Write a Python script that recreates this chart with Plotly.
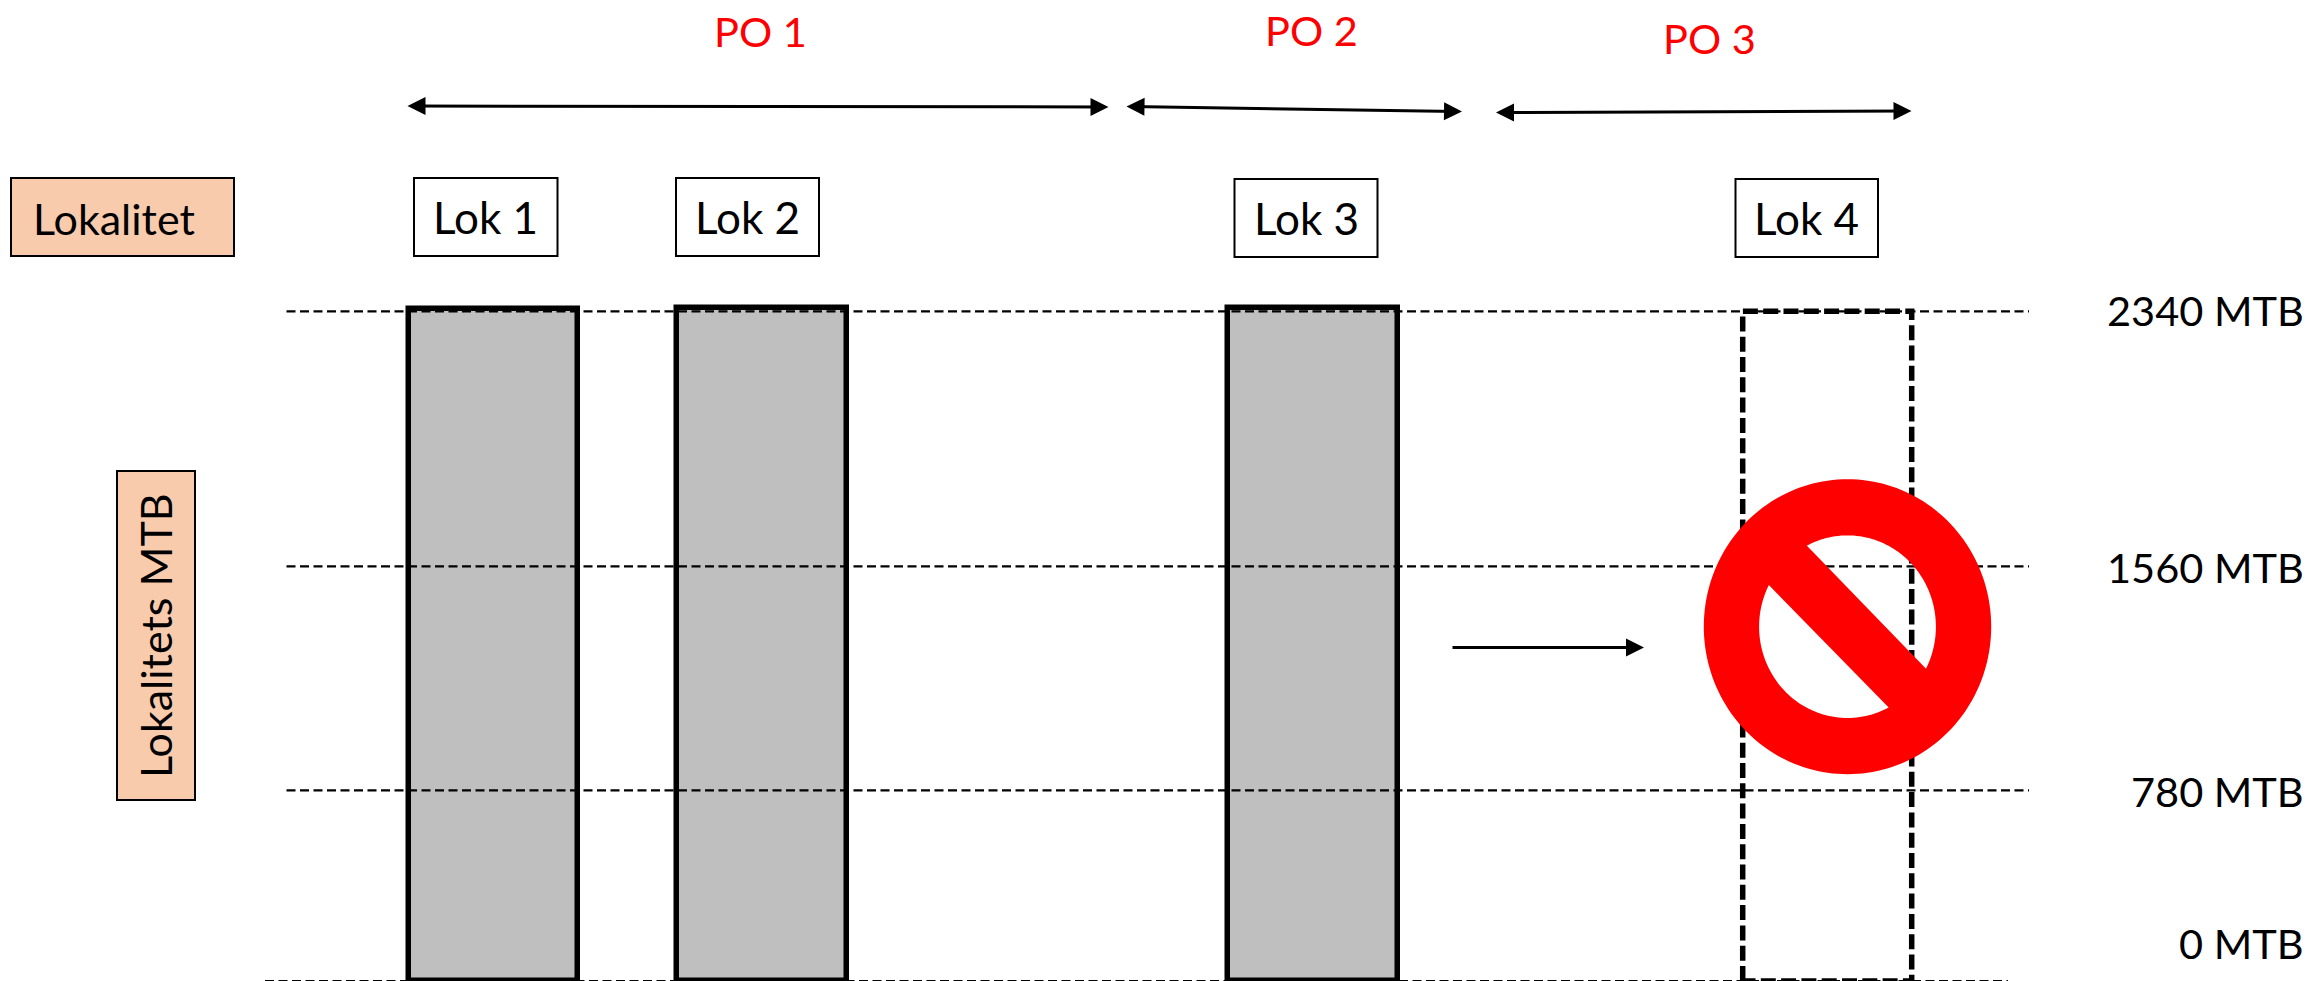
import numpy as np
import plotly.graph_objects as go

# ---- data ----
locations = ["Lok 1", "Lok 2", "Lok 3", "Lok 4"]
location_x = [493.3, 761.8, 1312.8, 1827.2]
location_width = [169.6, 169.6, 169.4, 169.0]
location_height = [672.5, 673.5, 673.5, 669.7]
location_active = [True, True, True, False]

level_labels = ["2340 MTB", "1560 MTB", "780 MTB", "0 MTB"]
level_height = [669.7, 414.7, 190.7, 0.0]

phase_labels = ["PO 1", "PO 2", "PO 3"]

# ---- layout helpers (page-pixel placement of the diagram furniture) ----
W, H, BASE = 2310, 981, 980
SHIFT = 1.0
FONT = "Lato"
BLACK, RED, GREY, PEACH = "#000000", "#FF0000", "#BFBFBF", "#F8CBAD"


def Y(px):
    return BASE + SHIFT - px


fig = go.Figure()

fig.add_trace(go.Bar(
    x=location_x, y=location_height, width=location_width, base=0,
    marker=dict(
        color=[GREY if a else "rgba(0,0,0,0)" for a in location_active],
        line=dict(color=BLACK, width=[5.5 if a else 0 for a in location_active]),
    ),
    hoverinfo="skip", showlegend=False,
))

# dashed outline of the cancelled location
for cx, w, h, a in zip(location_x, location_width, location_height, location_active):
    if not a:
        fig.add_trace(go.Scatter(
            x=[cx - w / 2, cx - w / 2, cx + w / 2, cx + w / 2, cx - w / 2],
            y=[0, h, h, 0, 0], mode="lines",
            line=dict(color=BLACK, width=5.5, dash="15px,5.3px"),
            hoverinfo="skip", showlegend=False,
        ))

# dashed reference levels
grid_span = [(286.5, 2029), (286.5, 2029), (286.5, 2029), (265, 2008)]
for h, (x0, x1) in zip(level_height, grid_span):
    fig.add_trace(go.Scatter(
        x=[x0, x1], y=[h, h], mode="lines",
        line=dict(color=BLACK, width=2.2, dash="9px,4.5px"),
        hoverinfo="skip", showlegend=False,
    ))

shapes = []
annotations = []


def boxed(text, x0, x1, y0, y1, fill, tx=None, ty=None, angle=0, size=44):
    shapes.append(dict(type="rect", xref="x", yref="y", x0=x0, x1=x1,
                       y0=Y(y0), y1=Y(y1),
                       fillcolor=fill, line=dict(color=BLACK, width=2), layer="above"))
    annotations.append(dict(
        text=text, xref="x", yref="y", showarrow=False, textangle=angle,
        x=(x0 + x1) / 2 if tx is None else tx,
        y=Y((y0 + y1) / 2 if ty is None else ty),
        xanchor="center", yanchor="middle",
        font=dict(family=FONT, size=size, color=BLACK),
    ))


boxed("Lokalitet", 11, 234, 178, 256, PEACH, tx=114, ty=218, size=43)
boxed("Lokalitets MTB", 117, 195, 471, 800, PEACH, tx=155, ty=636, angle=-90, size=43)

label_boxes = [(414, 557.5, 178, 256), (676, 819, 178, 256),
               (1234.5, 1377.5, 179, 257), (1735.5, 1878, 179, 257)]
for name, (x0, x1, y0, y1) in zip(locations, label_boxes):
    boxed(name, x0, x1, y0, y1, "#FFFFFF", ty=(y0 + y1) / 2)

# level labels
level_label_y = [310, 566.5, 791, 943]
for t, py in zip(level_labels, level_label_y):
    annotations.append(dict(
        text=t, xref="x", yref="y", x=2306, y=Y(py), showarrow=False,
        xanchor="right", yanchor="middle",
        font=dict(family=FONT, size=41.5, color=BLACK),
    ))

# phase labels
phase_pos = [(760, 31), (1311, 30), (1709, 38)]
for t, (px, py) in zip(phase_labels, phase_pos):
    annotations.append(dict(
        text=t, xref="x", yref="y", x=px, y=Y(py), showarrow=False,
        xanchor="center", yanchor="middle",
        font=dict(family=FONT, size=41.5, color=RED),
    ))


def arrow(x0, y0, x1, y1, both=True):
    annotations.append(dict(
        text="", xref="x", yref="y", axref="x", ayref="y",
        x=x1, y=Y(y1), ax=x0, ay=Y(y0), showarrow=True,
        arrowhead=2, arrowsize=1.2, arrowwidth=3, arrowcolor=BLACK,
        startarrowhead=2, startarrowsize=1.2,
        arrowside="end+start" if both else "end",
    ))


arrow(406, 106, 1108.5, 107)
arrow(1125, 106.5, 1462, 111.5)
arrow(1494.5, 112.5, 1911.5, 111)
arrow(1451, 647.5, 1644, 647.5, both=False)

# prohibition sign
cx, cy = 1847.5, 626.7


def ring(rx, ry):
    t = np.linspace(0, 2 * np.pi, 181)[:-1]
    pts = [f"{cx + rx * np.cos(a):.2f},{Y(cy + ry * np.sin(a)):.2f}" for a in t]
    return "M" + "L".join(pts) + "Z"


shapes.append(dict(type="path", xref="x", yref="y", path=ring(143.7, 147.5) + ring(88.4, 91.3),
                   fillcolor=RED, fillrule="evenodd", line=dict(width=0), layer="above"))
band = [(1797, 535.5), (1935, 678), (1898, 717), (1759, 575)]
shapes.append(dict(type="path", xref="x", yref="y",
                   path="M" + "L".join(f"{x},{Y(y)}" for x, y in band) + "Z",
                   fillcolor=RED, line=dict(width=0), layer="above"))

fig.update_layout(
    width=W, height=H, autosize=False,
    margin=dict(l=0, r=0, t=0, b=0, pad=0),
    paper_bgcolor="#FFFFFF", plot_bgcolor="#FFFFFF",
    showlegend=False, bargap=0,
    xaxis=dict(range=[0, W], visible=False, fixedrange=True),
    yaxis=dict(range=[BASE - H + SHIFT, BASE + SHIFT], visible=False, fixedrange=True),
    shapes=shapes, annotations=annotations,
)

fig.write_html("out.html", config={"displayModeBar": False},
               post_script="document.body.style.margin='0';document.body.style.overflow='hidden';")
